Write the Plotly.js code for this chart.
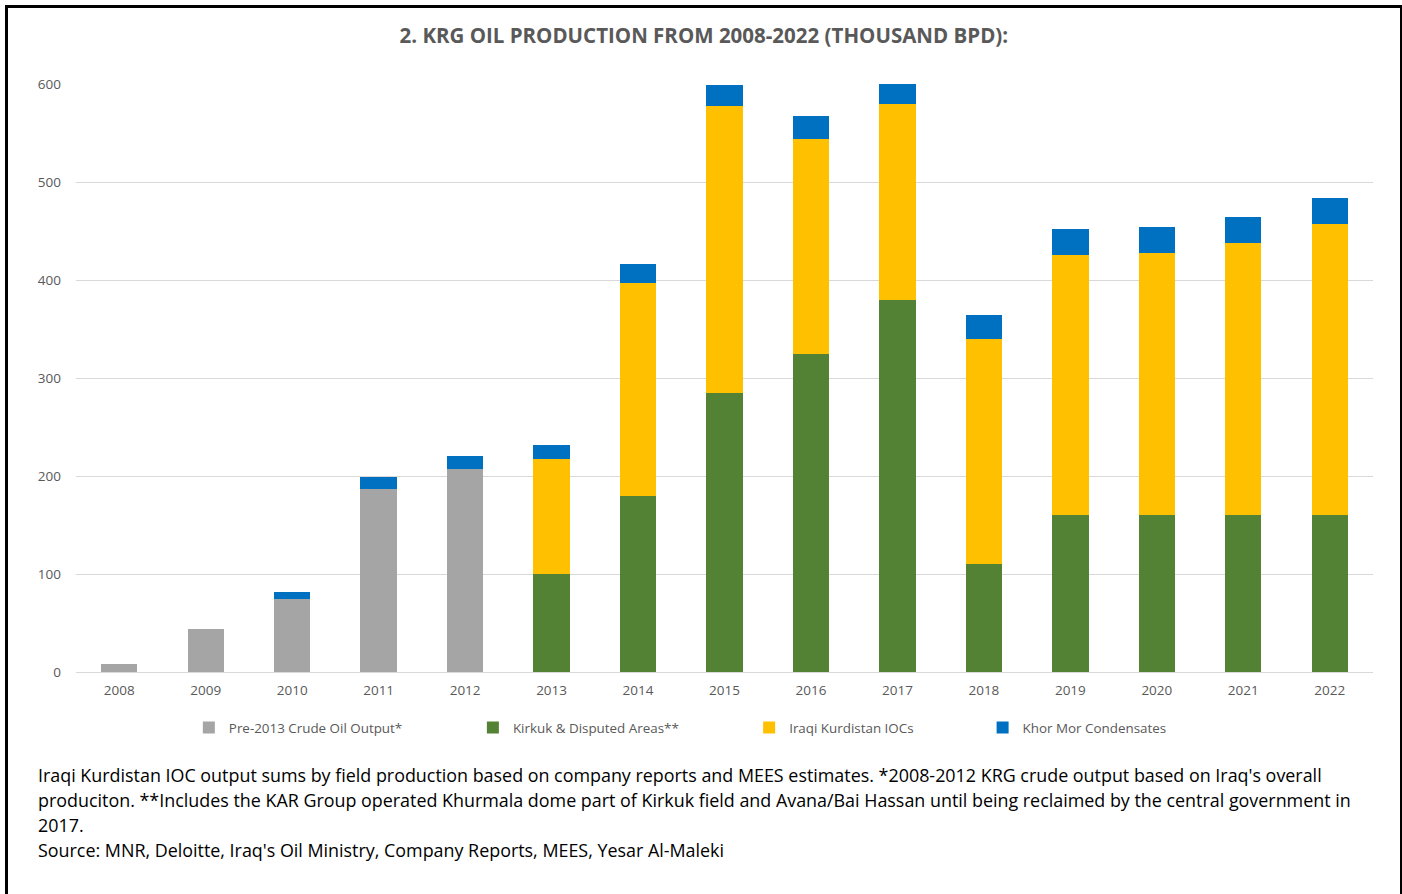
<!DOCTYPE html>
<html>
<head>
<meta charset="utf-8">
<script src="https://cdn.plot.ly/plotly-3.0.1.min.js"></script>
<style>
html,body{margin:0;padding:0;background:#fff;overflow:hidden;}
#frame{position:absolute;left:5px;top:5px;width:1392px;height:900px;border:3px solid #000;pointer-events:none;z-index:5;}
#chart{position:absolute;left:0;top:0;width:1402px;height:894px;}
</style>
</head>
<body>
<div id="chart"></div>
<div id="frame"></div>
<script>
const years = ['2008','2009','2010','2011','2012','2013','2014','2015','2016','2017','2018','2019','2020','2021','2022'];
const pre2013 = [8, 44, 75, 187, 207, null, null, null, null, null, null, null, null, null, null];
const kirkuk = [null, null, null, null, null, 100, 180, 285, 324, 380, 110, 160, 160, 160, 160];
const iocs = [null, null, null, null, null, 117, 217, 293, 220, 200, 230, 266, 268, 278, 297];
const khorMor = [null, null, 7, 12, 13, 15, 19, 21, 23, 21, 24, 26, 26, 26, 27];
const seriesNames = ['Pre-2013 Crude Oil Output*', 'Kirkuk & Disputed Areas**', 'Iraqi Kurdistan IOCs', 'Khor Mor Condensates'];
const seriesColors = ['#a5a5a5', '#548235', '#ffc000', '#0070c0'];
const yTicks = [0, 100, 200, 300, 400, 500, 600];
const titleText = '2. KRG OIL PRODUCTION FROM 2008-2022 (THOUSAND BPD):';
const noteLines = [
  "Iraqi Kurdistan IOC output sums by field production based on company reports and MEES estimates. *2008-2012 KRG crude output based on Iraq's overall",
  "produciton. **Includes the KAR Group operated Khurmala dome part of Kirkuk field and Avana/Bai Hassan until being reclaimed by the central government in",
  "2017.",
  "Source: MNR, Deloitte, Iraq's Oil Ministry, Company Reports, MEES, Yesar Al-Maleki"
];

const seriesData = [pre2013, kirkuk, iocs, khorMor];
const legendIds = ['legend', 'legend2', 'legend3', 'legend4'];
const legendX = [0.087, 0.306, 0.519, 0.699];

const traces = seriesData.map((vals, i) => ({
  type: 'bar',
  x: years,
  y: vals,
  name: seriesNames[i],
  legend: legendIds[i],
  marker: {color: seriesColors[i], line: {width: 0}},
  hoverinfo: 'x+y+name'
}));

const font = '"Open Sans", sans-serif';
const layout = {
  width: 1402,
  height: 894,
  margin: {l: 76, r: 29, t: 84, b: 222},
  paper_bgcolor: '#ffffff',
  plot_bgcolor: '#ffffff',
  barmode: 'stack',
  bargap: 0.58,
  font: {family: font, color: '#595959', size: 13},
  title: {
    text: '<b>' + titleText + '</b>',
    font: {family: font, size: 20.5, color: '#595959'},
    x: 0.502, xanchor: 'center', xref: 'container',
    y: 1, yref: 'container', yanchor: 'top', pad: {t: 29}
  },
  xaxis: {
    type: 'category',
    tickfont: {size: 13.5, color: '#595959'},
    showgrid: false,
    showline: true,
    linecolor: '#d9d9d9',
    linewidth: 1,
    ticks: '',
    ticklen: 0,
    ticklabelstandoff: 6
  },
  yaxis: {
    range: [0, 600],
    tickvals: yTicks,
    ticktext: yTicks.map(String),
    tickfont: {size: 13.5, color: '#595959'},
    showgrid: true,
    gridcolor: '#d9d9d9',
    gridwidth: 1,
    zeroline: false,
    showline: false,
    ticks: '',
    ticklabelstandoff: 14
  },
  annotations: noteLines.map((t, i) => ({
    text: t,
    xref: 'paper', yref: 'paper',
    x: -0.031, y: -0.175 - i * 0.0425,
    xanchor: 'left', yanchor: 'middle',
    showarrow: false,
    align: 'left',
    font: {family: font, size: 17.9, color: '#000000'}
  })),
  showlegend: true
};
legendIds.forEach((id, i) => {
  layout[id] = {
    orientation: 'h',
    x: legendX[i], xref: 'paper', xanchor: 'left',
    y: -0.095, yref: 'paper', yanchor: 'middle',
    font: {family: font, size: 13.4, color: '#595959'},
    itemwidth: 30,
    bgcolor: 'rgba(0,0,0,0)'
  };
});

Plotly.newPlot('chart', traces, layout, {displayModeBar: false, responsive: false});
</script>
</body>
</html>
